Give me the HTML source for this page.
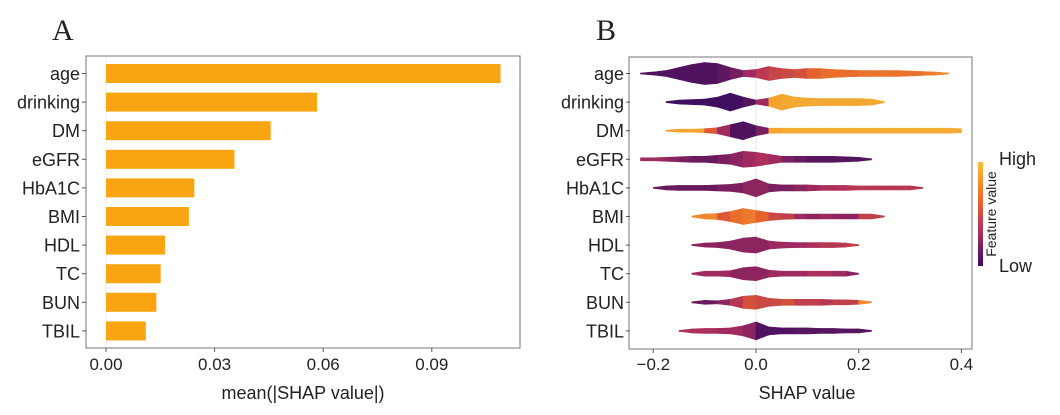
<!DOCTYPE html>
<html><head><meta charset="utf-8"><style>
body{margin:0;background:#fff;width:1060px;height:410px;overflow:hidden}
text{font-family:"Liberation Sans",sans-serif;fill:#222}
</style></head><body>
<svg id="s" width="1060" height="410">
<text x="52" y="40" style="font-family:'Liberation Serif',serif;font-size:30px">A</text>
<text x="596" y="40" style="font-family:'Liberation Serif',serif;font-size:30px">B</text>
<rect x="86" y="56" width="434" height="292" fill="none" stroke="#777" stroke-width="1"/>
<rect x="629" y="57" width="343" height="292" fill="none" stroke="#777" stroke-width="1"/>
<line x1="106" y1="57" x2="106" y2="347" stroke="#eee"/>
<line x1="756" y1="58" x2="756" y2="348" stroke="#e4e4e4"/>
<text x="303" y="399" text-anchor="middle" font-size="18">mean(|SHAP value|)</text>
<text x="807" y="399" text-anchor="middle" font-size="18">SHAP value</text>
<defs><linearGradient id="cb" x1="0" y1="0" x2="0" y2="1"><stop offset="0" stop-color="#f8c232"/><stop offset="0.35" stop-color="#ed6a2a"/><stop offset="0.65" stop-color="#b3325f"/><stop offset="1" stop-color="#3a0b66"/></linearGradient></defs>
<rect x="978" y="162" width="5" height="104" fill="url(#cb)"/>
<text x="999" y="165" font-size="18">High</text>
<text x="999" y="272" font-size="18">Low</text>
<text transform="translate(996,214) rotate(-90)" text-anchor="middle" font-size="14">Feature value</text>
<g id="ga"></g><g id="gb"></g>
</svg>
<script>
const features=["age","drinking","DM","eGFR","HbA1C","BMI","HDL","TC","BUN","TBIL"];
const meanShap=[0.109,0.0583,0.0455,0.0355,0.0244,0.0229,0.0163,0.0151,0.0139,0.0110];
const ticksA=[0,0.03,0.06,0.09];
const tickLabelsA=["0.00","0.03","0.06","0.09"];
const ticksB=[-0.2,0,0.2,0.4];
const tickLabelsB=["\u22120.2","0.0","0.2","0.4"];
const grid=[-0.225,-0.2,-0.175,-0.15,-0.125,-0.1,-0.075,-0.05,-0.025,0,0.025,0.05,0.075,0.1,0.125,0.15,0.175,0.2,0.225,0.25,0.275,0.3,0.325,0.35,0.375,0.4];
const dens={
age:[0,1.5,3,6,9,11,10,6,3,4,7,5,4,5,5,4,3.5,3,3,3,3,2.5,2,1.5,0,0],
drinking:[0,0,0,2,2.5,3,5,9,5,2,4,8,5,4,3.5,3.5,3.5,3.5,3,0,0,0,0,0,0,0],
DM:[0,0,0,1.5,1.5,2,3,6,9,5,2.5,2.5,2.5,2.5,2.5,2.5,2.5,2.5,2.5,2.5,2.5,2.5,2.5,2.5,2.5,2],
eGFR:[1.5,1.5,2,2.5,3,3,4,5,8,7,5,3,3,3,3,3,2.5,2,0,0,0,0,0,0,0,0],
HbA1C:[0,0,2,2.5,2.5,2.5,3,3.5,5,9,4,3,3,3,2.5,2.5,2.5,2,2,2,2,2,0,0,0,0],
BMI:[0,0,0,0,0,2.5,3,5,8,6,4,3,2.5,2.5,2.5,2.5,2.5,2.5,2.5,0,0,0,0,0,0,0],
HDL:[0,0,0,0,0,2,2.5,4,7,8,4,3,2.5,2.5,2.5,2.5,2,0,0,0,0,0,0,0,0,0],
TC:[0,0,0,0,0,2.5,2.5,3,6,7,3.5,2.5,2.5,2.5,2.5,2.5,2.5,0,0,0,0,0,0,0,0,0],
BUN:[0,0,0,0,0,2,1.5,3,6,7,4,3,3,3,3,2.5,2.5,2,0,0,0,0,0,0,0,0],
TBIL:[0,0,0,0,2,2.5,2.5,3,5,9,4,3,3,3,2.5,2.5,2,2,0,0,0,0,0,0,0,0]};
const col={
age:[.08,.08,.08,.08,.08,.08,.12,.18,.3,.42,.48,.5,.55,.65,.7,.7,.7,.72,.72,.72,.72,.72,.75,.8,.8,.8],
drinking:[.04,.04,.04,.04,.04,.04,.04,.04,.1,.3,.9,.92,.92,.92,.92,.92,.92,.92,.92,.92,.92,.92,.92,.92,.92,.92],
DM:[.9,.9,.9,.9,.9,.6,.3,.08,.08,.2,.9,.93,.93,.93,.93,.93,.93,.93,.93,.93,.93,.93,.93,.93,.93,.93],
eGFR:[.3,.3,.25,.2,.15,.15,.2,.25,.3,.35,.3,.2,.15,.1,.1,.1,.1,.1,.1,.1,.1,.1,.1,.1,.1,.1],
HbA1C:[.15,.15,.15,.15,.15,.15,.2,.2,.25,.25,.2,.2,.25,.3,.35,.35,.4,.4,.4,.4,.4,.4,.4,.4,.4,.4],
BMI:[.8,.8,.8,.8,.8,.8,.6,.7,.75,.65,.5,.45,.3,.25,.3,.25,.25,.45,.45,.45,.45,.45,.45,.45,.45,.45],
HDL:[.25,.25,.25,.25,.25,.25,.25,.25,.25,.25,.3,.3,.3,.35,.4,.4,.45,.45,.45,.45,.45,.45,.45,.45,.45,.45],
TC:[.3,.3,.3,.3,.3,.3,.3,.25,.25,.25,.3,.3,.3,.35,.35,.3,.25,.25,.25,.25,.25,.25,.25,.25,.25,.25],
BUN:[.15,.15,.15,.15,.15,.15,.25,.4,.55,.5,.5,.55,.45,.45,.4,.45,.45,.8,.8,.8,.8,.8,.8,.8,.8,.8],
TBIL:[.35,.35,.35,.35,.35,.35,.3,.3,.25,.08,.08,.08,.1,.1,.1,.1,.1,.1,.1,.1,.1,.1,.1,.1,.1,.1]};
const NS="http://www.w3.org/2000/svg";
function mk(t,a,p){const e=document.createElementNS(NS,t);for(const k in a)e.setAttribute(k,a[k]);p.appendChild(e);return e;}
const xA=v=>106+v*3620, xB=v=>756+v*513.5, yR=i=>73.5+i*28.6;
const ga=document.getElementById('ga'), gb=document.getElementById('gb');
function lerp(a,b,t){return a.map((v,i)=>Math.round(v+(b[i]-v)*t));}
const stops=[[50,10,95],[170,45,95],[232,100,42],[246,190,52]];
function cmap(v){v=Math.max(0,Math.min(1,v))*3;const i=Math.min(2,Math.floor(v));const c=lerp(stops[i],stops[i+1],v-i);return `rgb(${c})`;}
features.forEach((f,i)=>{
  const y=yR(i);
  const r=mk('rect',{x:xA(0),y:y-9.5,width:xA(meanShap[i])-xA(0),height:19,fill:'#f9a511'},ga);
  
  
  [[80,ga],[624,gb]].forEach(([lx,g],k)=>{
    const t=mk('text',{x:lx,y:y+6.5,'text-anchor':'end','font-size':18},g);t.textContent=f;
    
    
    const tk=mk('line',{x1:lx+2,x2:lx+6,y1:y,y2:y,stroke:'#555'},g);
    
    
  });
  const d=dens[f], c=col[f];
  for(let j=0;j<grid.length-1;j++){
    if(d[j]===0&&d[j+1]===0)continue;
    const x0=xB(grid[j]),x1=xB(grid[j+1]);
    const h0=d[j]||0.5,h1=d[j+1]||0.5;
    const p=mk('polygon',{points:`${x0},${y-h0} ${x1},${y-h1} ${x1},${y+h1} ${x0},${y+h0}`,fill:cmap(c[j]),stroke:cmap(c[j]),'stroke-width':0.6},gb);
    
    
  }
});
ticksA.forEach((v,i)=>{
  const t=mk('text',{x:xA(v),y:370,'text-anchor':'middle','font-size':17},ga);t.textContent=tickLabelsA[i];
  
  
  const l=mk('line',{x1:xA(v),x2:xA(v),y1:348,y2:352,stroke:'#555'},ga);
  
  
});
ticksB.forEach((v,i)=>{
  const t=mk('text',{x:xB(v),y:370,'text-anchor':'middle','font-size':17},gb);t.textContent=tickLabelsB[i];
  
  
  const l=mk('line',{x1:xB(v),x2:xB(v),y1:349,y2:353,stroke:'#555'},gb);
  
  
});
</script>
</body></html>
